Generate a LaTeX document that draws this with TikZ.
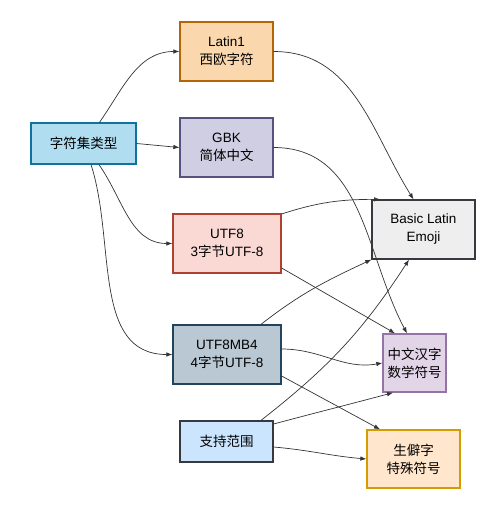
\documentclass[tikz,border=0pt]{standalone}
\usepackage{fontspec}
\setmainfont{Liberation Sans}
\newfontfamily\cjk{Noto Sans CJK SC}
\usetikzlibrary{arrows.meta}

\definecolor{typefill}{HTML}{B1DDF0}\definecolor{typeline}{HTML}{10739E}
\definecolor{latinfill}{HTML}{FAD7AC}\definecolor{latinline}{HTML}{B46504}
\definecolor{gbkfill}{HTML}{D0CEE2}\definecolor{gbkline}{HTML}{56517E}
\definecolor{utffill}{HTML}{FAD9D5}\definecolor{utfline}{HTML}{AE4132}
\definecolor{mbfill}{HTML}{BAC8D3}\definecolor{mbline}{HTML}{23445D}
\definecolor{rangefill}{HTML}{CCE5FF}\definecolor{rangeline}{HTML}{36393D}
\definecolor{basicfill}{HTML}{EEEEEE}\definecolor{basicline}{HTML}{36393D}
\definecolor{cnfill}{HTML}{E1D5E7}\definecolor{cnline}{HTML}{9673A6}
\definecolor{rarefill}{HTML}{FFE6CC}\definecolor{rareline}{HTML}{D79B00}

\tikzset{
  box/.style={draw, line width=1.3pt, align=center, inner sep=0pt,
    font=\fontsize{13.5}{18}\selectfont},
  link/.style={->, draw=black!80, line width=0.7pt},
  >={Latex[length=6pt,width=4.5pt]}
}

\begin{document}
\begin{tikzpicture}[x=1pt,y=1pt]
\useasboundingbox (0,0) rectangle (503,-527);
% left column
\node[box, fill=typefill, draw=typeline, minimum width=105pt, minimum height=41pt]
  (type) at (83.5,-143.5) {\cjk 字符集类型};
% middle column
\node[box, fill=latinfill, draw=latinline, minimum width=93pt, minimum height=59pt]
  (latin) at (226.5,-51.5) {Latin1\\{\cjk 西欧字符}};
\node[box, fill=gbkfill, draw=gbkline, minimum width=93pt, minimum height=59pt]
  (gbk) at (226.5,-147.5) {GBK\\{\cjk 简体中文}};
\node[box, fill=utffill, draw=utfline, minimum width=108pt, minimum height=59pt]
  (utf) at (227,-243.5) {UTF8\\3{\cjk 字节}UTF-8};
\node[box, fill=mbfill, draw=mbline, minimum width=108pt, minimum height=59pt]
  (mb) at (227,-354.5) {UTF8MB4\\4{\cjk 字节}UTF-8};
\node[box, fill=rangefill, draw=rangeline, minimum width=93pt, minimum height=41pt]
  (range) at (226.5,-441.5) {\cjk 支持范围};
% right column
\node[box, fill=basicfill, draw=basicline, minimum width=103pt, minimum height=59pt]
  (basic) at (423.5,-229.5) {Basic Latin\\Emoji};
\node[box, fill=cnfill, draw=cnline, minimum width=63pt, minimum height=58pt]
  (cn) at (414.5,-363) {\cjk 中文汉字\\\cjk 数学符号};
\node[box, fill=rarefill, draw=rareline, minimum width=93pt, minimum height=58pt]
  (rare) at (413.5,-459) {\cjk 生僻字\\\cjk 特殊符号};

% type -> encodings
\draw[link] ([xshift=16pt]type.north) to[out=55,in=180] (latin.west);
\draw[link] (type.east) -- (gbk.west);
\draw[link] ([xshift=15.5pt]type.south) to[out=-55,in=180] (utf.west);
\draw[link] ([xshift=7.5pt]type.south) to[out=-72,in=180] (mb.west);
% encodings -> ranges
\draw[link] (latin.east) to[out=0,in=122] ([xshift=-10pt]basic.north);
\draw[link] (gbk.east) to[out=0,in=118] ([xshift=-7.5pt]cn.north);
\draw[link] ([yshift=29.5pt]utf.east) to[out=18,in=180] ([xshift=-43.5pt]basic.north);
\draw[link] ([yshift=-24.5pt]utf.east) -- ([xshift=-19.5pt]cn.north);
\draw[link] ([xshift=34pt]mb.north) to[out=38,in=205] (basic.south west);
\draw[link] ([yshift=5.5pt]mb.east) to[out=0,in=190] (cn.west);
\draw[link] ([yshift=-21.5pt]mb.east) -- ([xshift=-33.5pt]rare.north);
% range -> ranges
\draw[link] ([xshift=34.5pt]range.north) to[out=38,in=237] ([xshift=-14.5pt]basic.south);
\draw[link] ([yshift=17.5pt]range.east) to[out=15,in=195] ([xshift=-21.5pt]cn.south);
\draw[link] ([yshift=-5.5pt]range.east) to[out=-5,in=175] (rare.west);
\end{tikzpicture}
\end{document}
